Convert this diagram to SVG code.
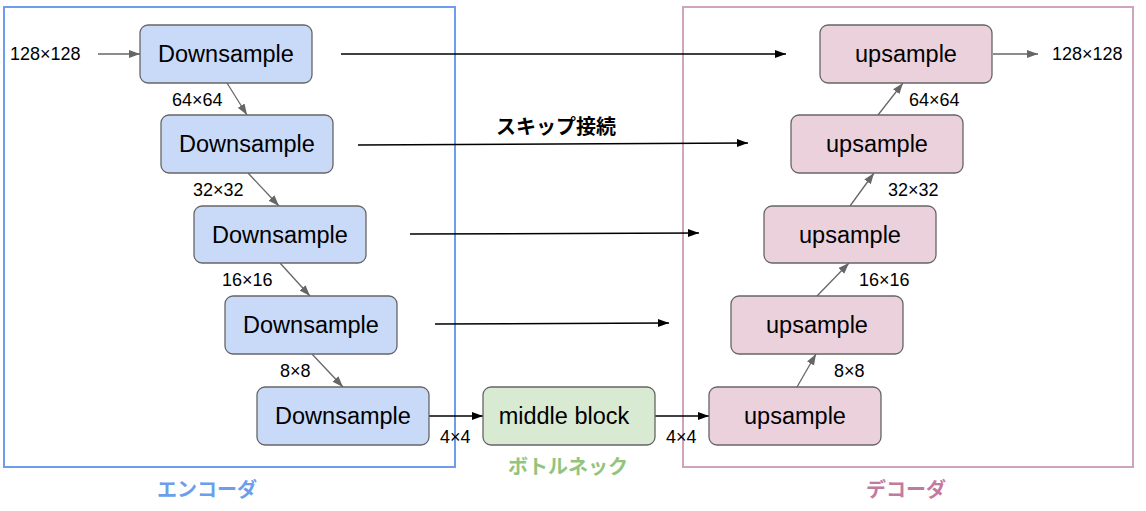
<svg xmlns="http://www.w3.org/2000/svg" width="1146" height="511" viewBox="0 0 1146 511">
<style>
.bg{fill:#ffffff}
.enc{fill:none;stroke:#6d9eeb;stroke-width:2}
.dec{fill:none;stroke:#d0a4ba;stroke-width:2}
.down{fill:#c9daf8;stroke:#666666;stroke-width:1.3}
.up{fill:#ead1dc;stroke:#666666;stroke-width:1.3}
.mid{fill:#d9ead3;stroke:#666666;stroke-width:1.3}
.nt{font-family:"Liberation Sans",Arial,sans-serif;font-size:23.5px;fill:#000;text-anchor:middle}
.lb{font-family:"Liberation Sans",Arial,sans-serif;font-size:18px;fill:#000}
.jp{font-family:"Noto Sans CJK JP",sans-serif;font-size:20px;font-weight:bold;text-anchor:middle}
.g{stroke:#666666;stroke-width:1.3;fill:none;marker-end:url(#ahg)}
.k{stroke:#000000;stroke-width:1.5;fill:none;marker-end:url(#ahk)}
</style>
<defs>
<marker id="ahg" markerWidth="12" markerHeight="10" refX="11" refY="5" orient="auto" markerUnits="userSpaceOnUse"><path d="M0,1 L11,5 L0,9 Z" fill="#666666"/></marker>
<marker id="ahk" markerWidth="12" markerHeight="10" refX="11" refY="5" orient="auto" markerUnits="userSpaceOnUse"><path d="M0,1 L11,5 L0,9 Z" fill="#000000"/></marker>
</defs>
<rect class="bg" x="0" y="0" width="1146" height="511"/>
<g id="encoder-frame"><rect class="enc" x="4" y="7" width="451" height="460"/><text class="jp" x="207" y="497" fill="#6d9eeb">エンコーダ</text></g>
<g id="decoder-frame"><rect class="dec" x="683" y="7" width="450" height="460"/><text class="jp" x="906" y="497" fill="#c27ba0">デコーダ</text></g>
<g id="connectors">
<line class="g" x1="98" y1="54" x2="140" y2="54"/>
<line class="g" x1="227" y1="83" x2="247" y2="115"/>
<line class="g" x1="248" y1="173" x2="279" y2="206"/>
<line class="g" x1="280" y1="263" x2="310" y2="296"/>
<line class="g" x1="312" y1="354" x2="343" y2="387"/>
<line class="k" x1="341" y1="54" x2="786" y2="54"/>
<line class="k" x1="358" y1="145" x2="748" y2="143"/>
<line class="k" x1="410" y1="234" x2="699" y2="233"/>
<line class="k" x1="435" y1="324" x2="669" y2="323"/>
<line class="k" x1="429" y1="416" x2="483" y2="416"/>
<line class="k" x1="655" y1="416" x2="709" y2="416"/>
<line class="g" x1="797" y1="387" x2="816" y2="354"/>
<line class="g" x1="817" y1="296" x2="849" y2="263"/>
<line class="g" x1="850" y1="206" x2="874" y2="173"/>
<line class="g" x1="878" y1="115" x2="903" y2="83"/>
<line class="g" x1="993" y1="54" x2="1038" y2="54"/>
<text class="jp" x="556" y="134" fill="#000">スキップ接続</text>
<text class="lb" x="10" y="60">128×128</text>
<text class="lb" x="172" y="106">64×64</text>
<text class="lb" x="193" y="196">32×32</text>
<text class="lb" x="222" y="286">16×16</text>
<text class="lb" x="280" y="377">8×8</text>
<text class="lb" x="440" y="443">4×4</text>
<text class="lb" x="666" y="443">4×4</text>
<text class="lb" x="834" y="377">8×8</text>
<text class="lb" x="859" y="286">16×16</text>
<text class="lb" x="888" y="196">32×32</text>
<text class="lb" x="909" y="106">64×64</text>
<text class="lb" x="1052" y="60">128×128</text>
</g>
<g id="down1"><rect class="down" x="140" y="25" width="172" height="58" rx="8"/><text class="nt" x="226" y="62">Downsample</text></g>
<g id="down2"><rect class="down" x="161" y="115" width="172" height="58" rx="8"/><text class="nt" x="247" y="152">Downsample</text></g>
<g id="down3"><rect class="down" x="194" y="206" width="172" height="57" rx="8"/><text class="nt" x="280" y="243">Downsample</text></g>
<g id="down4"><rect class="down" x="225" y="296" width="172" height="58" rx="8"/><text class="nt" x="311" y="333">Downsample</text></g>
<g id="down5"><rect class="down" x="257" y="387" width="172" height="58" rx="8"/><text class="nt" x="343" y="424">Downsample</text></g>
<g id="middle"><rect class="mid" x="483" y="387" width="172" height="58" rx="8"/><text class="nt" x="564" y="424">middle block</text><text class="jp" x="568" y="474" fill="#93c47d">ボトルネック</text></g>
<g id="up5"><rect class="up" x="709" y="387" width="172" height="58" rx="8"/><text class="nt" x="795" y="424">upsample</text></g>
<g id="up4"><rect class="up" x="731" y="296" width="172" height="58" rx="8"/><text class="nt" x="817" y="333">upsample</text></g>
<g id="up3"><rect class="up" x="764" y="206" width="172" height="57" rx="8"/><text class="nt" x="850" y="243">upsample</text></g>
<g id="up2"><rect class="up" x="791" y="115" width="172" height="58" rx="8"/><text class="nt" x="877" y="152">upsample</text></g>
<g id="up1"><rect class="up" x="820" y="25" width="172" height="58" rx="8"/><text class="nt" x="906" y="62">upsample</text></g>
</svg>
